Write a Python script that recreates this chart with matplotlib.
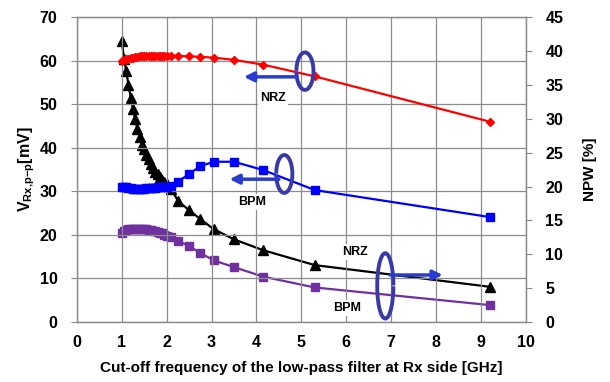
import matplotlib
matplotlib.use('Agg')
import matplotlib.pyplot as plt
from matplotlib.patches import Arc

plt.rcParams['font.family'] = ['Liberation Sans', 'DejaVu Sans']
plt.rcParams['font.weight'] = 'bold'
plt.rcParams['mathtext.fontset'] = 'custom'
plt.rcParams['mathtext.bf'] = 'Liberation Sans:bold'
plt.rcParams['mathtext.rm'] = 'Liberation Sans:bold'
plt.rcParams['mathtext.default'] = 'bf'

# cut-off frequency [GHz]
freq = [1.0, 1.05, 1.1, 1.15, 1.2, 1.25, 1.3, 1.35, 1.4, 1.45, 1.5,
        1.55, 1.6, 1.65, 1.7, 1.75, 1.8, 1.85, 1.9, 1.95, 2.0,
        2.1, 2.25, 2.5, 2.75, 3.05, 3.5, 4.15, 5.3, 9.2]

# V_Rx,p-p [mV] (left axis)
v_nrz = [60.0, 60.2, 60.4, 60.5, 60.6, 60.7, 60.8, 60.9, 61.0, 61.0, 61.1,
         61.1, 61.1, 61.2, 61.2, 61.2, 61.2, 61.2, 61.2, 61.2, 61.2,
         61.2, 61.1, 61.0, 60.9, 60.7, 60.2, 59.1, 56.4, 46.0]
v_bpm = [31.0, 31.0, 30.9, 30.8, 30.7, 30.6, 30.5, 30.5, 30.5, 30.6, 30.6,
         30.7, 30.7, 30.8, 30.8, 30.8, 30.9, 30.9, 30.9, 31.0, 31.0,
         31.2, 32.2, 34.0, 35.8, 36.8, 36.8, 34.9, 30.3, 24.1]

# NPW [%] (right axis)
npw_nrz = [41.5, 38.9, 37.0, 35.0, 33.1, 31.5, 29.9, 28.5, 27.3, 26.2, 25.5,
           24.7, 24.0, 23.3, 22.8, 22.2, 21.8, 21.4, 21.0, 20.7, 20.4,
           19.7, 17.9, 16.5, 15.2, 13.7, 12.2, 10.6, 8.4, 5.2]
npw_bpm = [13.2, 13.4, 13.6, 13.7, 13.8, 13.8, 13.8, 13.8, 13.8, 13.8, 13.8,
           13.7, 13.6, 13.6, 13.5, 13.4, 13.3, 13.2, 13.1, 12.9, 12.7,
           12.5, 12.0, 11.2, 10.2, 9.1, 8.1, 6.7, 5.1, 2.5]

gridc = '#8c8c8c'
ell_c = '#3a3aa6'
arr_c = '#2a3cd0'

fig = plt.figure(figsize=(6.1, 3.82), dpi=100)
ax = fig.add_axes([0.126, 0.157, 0.736, 0.798])
ax2 = ax.twinx()

ax.plot(freq, v_nrz, color='#ff0000', lw=1.6, marker='D', ms=4.5, zorder=3)
ax.plot(freq, v_bpm, color='#0000ff', lw=1.6, marker='s', ms=6, zorder=3)
ax2.plot(freq, npw_nrz, color='black', lw=1.6, marker='^', ms=7, zorder=3)
ax2.plot(freq, npw_bpm, color='#7030a0', lw=1.6, marker='s', ms=6, zorder=3)

ax.set_xlim(0, 10)
ax.set_ylim(0, 70)
ax2.set_ylim(0, 45)
ax.set_xticks(range(0, 11))
ax.set_yticks(range(0, 71, 10))
ax2.set_yticks(range(0, 46, 5))
ax.grid(True, color=gridc, lw=0.9)
ax.set_axisbelow(True)

for a in (ax, ax2):
    for s in a.spines.values():
        s.set_color(gridc)
        s.set_linewidth(0.9)
ax.tick_params(axis='y', length=4, color=gridc, pad=10, labelsize=11.5)
ax.tick_params(axis='x', length=0, pad=9, labelsize=11.5)
ax2.tick_params(axis='y', length=4, color=gridc, pad=10, labelsize=11.5)

ax.set_xlabel('Cut-off frequency of the low-pass filter at Rx side [GHz]',
              fontsize=11, fontweight='bold', labelpad=8)
ax.set_ylabel('V$_{Rx{,}p{-}p}$[mV]', fontsize=11.5, fontweight='bold', labelpad=2)
ax2.set_ylabel('NPW [%]', fontsize=11, fontweight='bold', labelpad=14)

# annotations (in left-axis coordinates)
tb = dict(facecolor='white', edgecolor='none', pad=1.5)
ax.add_patch(Arc((5.08, 57.6), 0.38, 8.6, theta1=-155, theta2=155,
                 color=ell_c, lw=2.8, zorder=5))
ax.annotate('', xy=(3.72, 56.3), xytext=(4.9, 56.3),
            arrowprops=dict(arrowstyle='-|>', color=arr_c, lw=2.5,
                            mutation_scale=14, shrinkA=0, shrinkB=0), zorder=5)
ax.text(4.36, 51.4, 'NRZ', ha='center', va='center', fontsize=9, bbox=tb, zorder=4)

ax.add_patch(Arc((4.62, 34.0), 0.36, 8.7, theta1=-155, theta2=155,
                 color=ell_c, lw=2.8, zorder=5))
ax.annotate('', xy=(3.4, 32.8), xytext=(4.5, 32.8),
            arrowprops=dict(arrowstyle='-|>', color=arr_c, lw=2.5,
                            mutation_scale=14, shrinkA=0, shrinkB=0), zorder=5)
ax.text(3.91, 27.5, 'BPM', ha='center', va='center', fontsize=9, bbox=tb, zorder=4)

ax.add_patch(Arc((6.87, 8.3), 0.36, 15.0, theta1=25, theta2=335,
                 color=ell_c, lw=2.8, zorder=5))
ax.annotate('', xy=(8.15, 10.8), xytext=(6.98, 10.8),
            arrowprops=dict(arrowstyle='-|>', color=arr_c, lw=2.5,
                            mutation_scale=14, shrinkA=0, shrinkB=0), zorder=5)
ax.text(6.2, 16.1, 'NRZ', ha='center', va='center', fontsize=9, bbox=tb, zorder=4)
ax.text(6.02, 3.2, 'BPM', ha='center', va='center', fontsize=9, bbox=tb, zorder=4)

# keep annotations above right-axis lines
ax.set_zorder(ax2.get_zorder() + 1)
ax.patch.set_visible(False)

fig.savefig('out.png', dpi=100)
